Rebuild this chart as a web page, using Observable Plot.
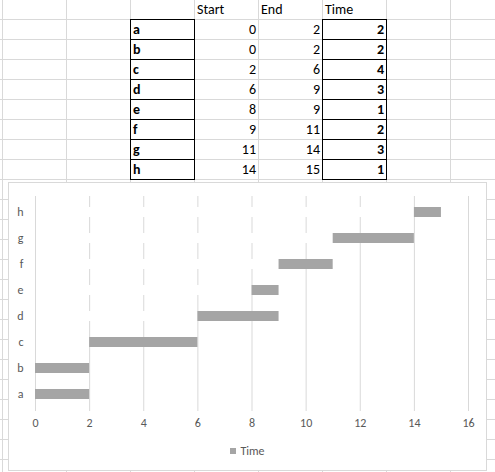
<!DOCTYPE html>
<html>
<head>
<meta charset="utf-8">
<script src="https://cdn.jsdelivr.net/npm/d3@7"></script>
<script src="https://cdn.jsdelivr.net/npm/@observablehq/plot@0.6"></script>
<style>
  html, body { margin: 0; padding: 0; background: #fff; }
  #page {
    position: relative; width: 495px; height: 472px; overflow: hidden; background-color: #fff;
    background-image: linear-gradient(to right, #d9d9d9 1px, transparent 1px),
                      linear-gradient(to bottom, #d9d9d9 1px, transparent 1px);
    background-size: 64px 20px;
    background-position: 2px 19px;
    font-family: Carlito, Calibri, Lato, sans-serif;
  }
  .cell { position: absolute; height: 20px; line-height: 22px; font-size: 14px; color: #000; white-space: nowrap; box-sizing: border-box; }
  .left { text-align: left; padding-left: 3px; }
  .right { text-align: right; padding-right: 2px; }
  .bold { font-weight: bold; }
  .box { position: absolute; box-sizing: border-box; border: 1px solid #000; width: 65px; height: 21px; }
  #chart { position: absolute; left: 8px; top: 182px; width: 479px; height: 289px; box-sizing: border-box; border: 1px solid #d9d9d9; background: #fff; }
  #chart > svg { position: absolute; left: 0; top: 0; }
  #legend { position: absolute; left: 0; top: 261px; width: 477px; display: flex; justify-content: center; }
  .lg-swatches { justify-content: center; margin: 0 !important; min-height: 0 !important; font-family: Carlito, Calibri, Lato, sans-serif !important; font-size: 12px !important; color: #595959; }
  .lg-swatches .lg-swatch { margin-right: 0 !important; }
  .lg-swatch > svg { margin-right: 4px !important; }
</style>
</head>
<body>
<div id="page">
  <div id="chart"><div id="legend"></div></div>
</div>
<script>
// ---- data ----
const tasks = ["a", "b", "c", "d", "e", "f", "g", "h"];
const starts = [0, 0, 2, 6, 8, 9, 11, 14];
const ends = [2, 2, 6, 9, 9, 11, 14, 15];
const times = [2, 2, 4, 3, 1, 2, 3, 1];
const headers = ["Start", "End", "Time"];
const xTicks = [0, 2, 4, 6, 8, 10, 12, 14, 16];
const seriesName = "Time";
const barColor = "#a5a5a5";

// ---- spreadsheet table ----
const page = document.getElementById("page");
const colLeft = [130, 194, 258, 322];
function cell(text, col, row, cls) {
  const d = document.createElement("div");
  d.className = "cell " + cls;
  d.style.left = colLeft[col] + "px";
  d.style.top = (row < 0 ? -1 : 19 + row * 20) + "px";
  d.style.width = "64px";
  d.textContent = text;
  page.insertBefore(d, page.firstChild);
}
function box(col, row) {
  const d = document.createElement("div");
  d.className = "box";
  d.style.left = colLeft[col] + "px";
  d.style.top = (19 + row * 20) + "px";
  page.insertBefore(d, page.firstChild);
}
headers.forEach((h, i) => cell(h, i + 1, -1, "left"));
tasks.forEach((t, i) => {
  box(0, i); box(3, i);
  cell(t, 0, i, "left bold");
  cell(String(starts[i]), 1, i, "right");
  cell(String(ends[i]), 2, i, "right");
  cell(String(times[i]), 3, i, "right bold");
});

// ---- chart ----
const rows = tasks.map((t, i) => ({task: t, start: starts[i], end: ends[i], time: times[i]}));
const font = "Carlito, Calibri, Lato, sans-serif";
const chart = Plot.plot({
  width: 477,
  height: 245,
  marginLeft: 26,
  marginRight: 18,
  marginTop: 13,
  marginBottom: 17,
  style: {fontFamily: font, fontSize: "12px", color: "#595959", background: "transparent", overflow: "visible"},
  x: {domain: [0, 16], ticks: xTicks, tickSize: 0, tickPadding: 7, label: null, line: false},
  y: {domain: tasks.slice().reverse(), paddingInner: 0.61, paddingOuter: 0.305, tickSize: 0, tickPadding: 12, label: null},
  marks: [
    Plot.ruleX(xTicks, {stroke: "#d9d9d9"}),
    Plot.barX(rows, {y: "task", x1: 0, x2: "start", fill: "white", insetLeft: 1}),
    Plot.barX(rows, {y: "task", x1: "start", x2: "end", fill: barColor})
  ]
});
document.getElementById("chart").appendChild(chart);

const legend = Plot.legend({
  legend: "swatches",
  color: {domain: [seriesName], range: [barColor]},
  swatchSize: 6,
  className: "lg"
});
document.getElementById("legend").appendChild(legend);
</script>
</body>
</html>
